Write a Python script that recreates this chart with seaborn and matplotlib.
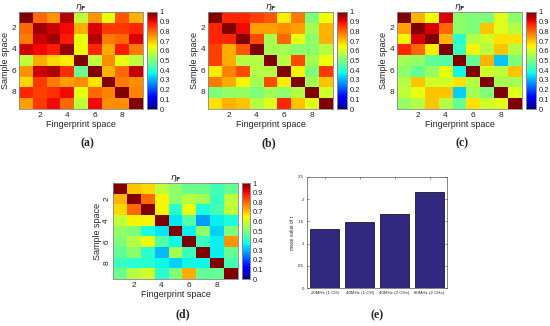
import numpy as np
import pandas as pd
import matplotlib
matplotlib.use("Agg")
import matplotlib.pyplot as plt
import seaborn as sns

# similarity matrices (rows: sample space, cols: fingerprint space)
eta_a = [
    [1.00, 0.80, 0.75, 0.95, 0.58, 0.75, 0.63, 0.82, 0.72],
    [0.80, 0.97, 0.93, 0.90, 0.73, 0.92, 0.85, 0.85, 0.87],
    [0.78, 0.93, 0.97, 0.88, 0.63, 0.95, 0.78, 0.80, 0.92],
    [0.93, 0.90, 0.88, 0.98, 0.64, 0.87, 0.73, 0.88, 0.78],
    [0.58, 0.73, 0.68, 0.66, 1.00, 0.58, 0.76, 0.63, 0.58],
    [0.75, 0.93, 0.96, 0.86, 0.48, 1.00, 0.72, 0.80, 0.94],
    [0.68, 0.85, 0.78, 0.74, 0.76, 0.67, 1.00, 0.78, 0.76],
    [0.87, 0.84, 0.86, 0.90, 0.63, 0.80, 0.77, 1.00, 0.77],
    [0.74, 0.85, 0.90, 0.80, 0.58, 0.90, 0.76, 0.76, 1.00],
]
eta_b = [
    [1.00, 0.87, 0.87, 0.84, 0.82, 0.66, 0.78, 0.50, 0.64],
    [0.87, 1.00, 0.90, 0.74, 0.74, 0.76, 0.74, 0.55, 0.72],
    [0.87, 0.87, 1.00, 0.83, 0.55, 0.80, 0.63, 0.52, 0.72],
    [0.84, 0.73, 0.82, 1.00, 0.55, 0.55, 0.52, 0.52, 0.57],
    [0.84, 0.73, 0.57, 0.57, 1.00, 0.57, 0.83, 0.55, 0.64],
    [0.66, 0.77, 0.83, 0.57, 0.57, 1.00, 0.65, 0.50, 0.85],
    [0.78, 0.73, 0.65, 0.55, 0.83, 0.66, 1.00, 0.55, 0.70],
    [0.50, 0.53, 0.53, 0.50, 0.55, 0.52, 0.57, 1.00, 0.60],
    [0.67, 0.72, 0.70, 0.57, 0.62, 0.87, 0.70, 0.62, 1.00],
]
eta_c = [
    [1.00, 0.72, 0.64, 0.92, 0.52, 0.50, 0.50, 0.62, 0.52],
    [0.74, 1.00, 0.92, 0.80, 0.52, 0.50, 0.70, 0.62, 0.57],
    [0.65, 0.92, 1.00, 0.72, 0.40, 0.57, 0.60, 0.67, 0.67],
    [0.87, 0.80, 0.66, 1.00, 0.42, 0.65, 0.57, 0.70, 0.57],
    [0.55, 0.53, 0.47, 0.45, 1.00, 0.47, 0.72, 0.32, 0.50],
    [0.52, 0.47, 0.53, 0.63, 0.37, 1.00, 0.60, 0.58, 0.70],
    [0.57, 0.70, 0.60, 0.60, 0.67, 0.57, 1.00, 0.55, 0.55],
    [0.58, 0.63, 0.70, 0.70, 0.33, 0.55, 0.50, 1.00, 0.62],
    [0.53, 0.57, 0.70, 0.57, 0.47, 0.67, 0.60, 0.62, 1.00],
]
eta_d = [
    [1.00, 0.70, 0.68, 0.58, 0.52, 0.48, 0.48, 0.43, 0.47],
    [0.72, 1.00, 0.80, 0.65, 0.52, 0.57, 0.55, 0.42, 0.58],
    [0.68, 0.80, 1.00, 0.65, 0.40, 0.63, 0.38, 0.43, 0.58],
    [0.58, 0.65, 0.65, 1.00, 0.35, 0.45, 0.28, 0.36, 0.38],
    [0.53, 0.50, 0.38, 0.35, 1.00, 0.36, 0.52, 0.33, 0.50],
    [0.50, 0.57, 0.63, 0.45, 0.37, 1.00, 0.42, 0.36, 0.75],
    [0.47, 0.52, 0.40, 0.31, 0.55, 0.42, 1.00, 0.36, 0.47],
    [0.42, 0.40, 0.40, 0.37, 0.33, 0.37, 0.37, 1.00, 0.43],
    [0.48, 0.57, 0.60, 0.40, 0.50, 0.73, 0.47, 0.47, 1.00],
]

bandwidths = ["20MHz (1 CH)", "40MHz (1 CH)", "40MHz (2 CHs)", "80MHz (2 CHs)"]
mean_tau = [1.32, 1.49, 1.67, 2.16]

W, H = 550, 326


def box(x0, y0, x1, y1):
    # pixel box (top-left origin) -> figure fraction rect
    return [x0 / W, 1 - y1 / H, (x1 - x0) / W, (y1 - y0) / H]


def plot_eta(fig, mat, ax_box, cb_box, label, label_xy, rot_y=False):
    ax = fig.add_axes(box(*ax_box))
    cax = fig.add_axes(box(*cb_box))
    sns.heatmap(np.array(mat), ax=ax, cbar_ax=cax, cmap="jet", vmin=0, vmax=1,
                square=False, xticklabels=False, yticklabels=False)
    ax.set_xticks([1.5, 3.5, 5.5, 7.5])
    ax.set_xticklabels(["2", "4", "6", "8"])
    ax.set_yticks([1.5, 3.5, 5.5, 7.5])
    ax.set_yticklabels(["2", "4", "6", "8"], rotation=90 if rot_y else 0,
                       va="center")
    ax.tick_params(direction="in", length=2, width=0.5, labelsize=6, pad=2,
                   colors="#777777", labelcolor="#222222")
    for s in ax.spines.values():
        s.set_visible(True)
        s.set_color("#888888")
        s.set_linewidth(0.6)
    ax.set_xlabel("Fingerprint space", fontsize=6.5, labelpad=1)
    ax.set_ylabel("Sample space", fontsize=6.5, labelpad=1)
    ax.set_title(r"$\eta_{\mathbf{F}}$", fontsize=6.5, pad=2)
    cax.set_yticks(np.arange(0, 1.01, 0.1))
    cax.set_yticklabels(["0"] + [f"{v:.1f}" for v in np.arange(0.1, 0.95, 0.1)] + ["1"])
    cax.tick_params(direction="in", length=1.5, width=0.4, labelsize=5.5, pad=2,
                    colors="#777777", labelcolor="#222222")
    for s in cax.spines.values():
        s.set_visible(True)
        s.set_color("#888888")
        s.set_linewidth(0.5)
    fig.text(label_xy[0] / W, 1 - label_xy[1] / H, label, ha="center", va="center",
             fontsize=8.5, fontweight="bold", family="Liberation Serif")


sns.set_style("white")
plt.rcParams["font.family"] = ["Liberation Sans", "DejaVu Sans"]

fig = plt.figure(figsize=(5.5, 3.26), dpi=100)

plot_eta(fig, eta_a, (19, 12, 143, 109), (147, 12, 157, 109), "(a)", (87, 143))
plot_eta(fig, eta_b, (208, 12, 333, 109), (337, 12, 347, 109), "(b)", (269, 143))
plot_eta(fig, eta_c, (397, 12, 522, 109), (526, 12, 536, 109), "(c)", (462, 143))
plot_eta(fig, eta_d, (113, 183, 238, 279), (242, 183, 250, 279), "(d)", (183, 314),
         rot_y=True)

# (e) bar chart
axe = fig.add_axes(box(307, 177, 447, 288))
df = pd.DataFrame({"bw": bandwidths, "tau": mean_tau})
sns.barplot(data=df, x="bw", y="tau", ax=axe, color="#312A80", saturation=1,
            width=0.82, edgecolor="black", linewidth=0.5)
axe.set_ylim(0, 2.5)
axe.set_xlim(-0.5, 3.5)
axe.set_yticks(np.arange(0, 2.51, 0.5))
axe.set_yticklabels(["0", "0.5", "1", "1.5", "2", "2.5"])
axe.set_xlabel("")
axe.set_ylabel("mean value of τ", fontsize=3.5, labelpad=2)
axe.tick_params(direction="in", length=1.5, width=0.4, labelsize=3.2, pad=2,
                top=True, right=True, bottom=True, left=True)
for s in axe.spines.values():
    s.set_visible(True)
    s.set_color("#555555")
    s.set_linewidth(0.5)
fig.text(377 / W, 1 - 315 / H, "(e)", ha="center", va="center",
         fontsize=8.5, fontweight="bold", family="Liberation Serif")

fig.savefig("out.png", dpi=100)
